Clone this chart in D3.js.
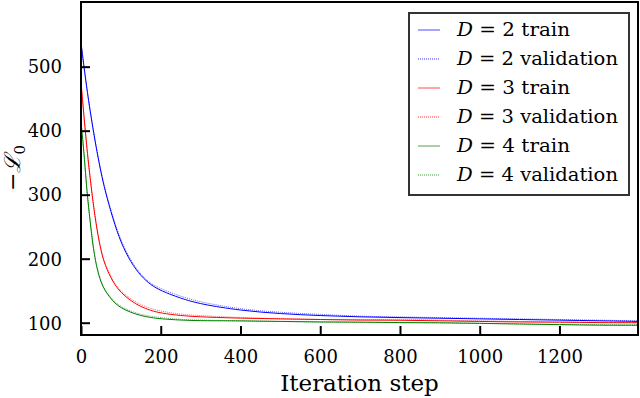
<!DOCTYPE html>
<html>
<head>
<meta charset="utf-8">
<script src="https://cdn.jsdelivr.net/npm/d3@7"></script>
<style>
  body { margin: 0; background: #fff; }
  svg { display: block; }
</style>
</head>
<body>
<div id="chart"></div>
<script>
// iteration steps shared by all series
const steps = [0, 5, 10, 15, 20, 30, 40, 50, 60, 80, 100, 125, 150, 175, 200, 250, 300,
  400, 500, 600, 700, 800, 900, 1000, 1100, 1200, 1300, 1397];

const d2Train = [538, 512, 488, 465, 443, 403, 367, 335, 307, 262, 225, 194, 173, 159, 150, 138, 129,
  119, 114, 111, 109, 108, 107, 106, 105, 104, 103, 102];
const d2Val = [537, 511, 487, 464, 442, 404, 368, 337, 309, 265, 228, 197, 175, 161, 153, 141, 132,
  121, 116, 113, 110, 109, 108, 107, 106, 105, 104, 103];
const d3Train = [476, 440, 405, 372, 342, 288, 245, 212, 190, 163, 147, 134, 125, 119, 115, 111, 109,
  107, 106, 105, 104, 104, 103, 102, 101, 101, 100, 100];
const d3Val = [475, 439, 404, 371, 341, 289, 246, 214, 192, 165, 149, 137, 128, 122, 118, 113, 111,
  108, 106, 105, 104, 106, 104, 103, 102, 101, 101, 100];
const d4Train = [414, 383, 345, 305, 275, 218, 184, 163, 150, 133, 123, 116, 111, 108, 106, 104, 103,
  103, 102, 101, 101, 100, 100, 99, 98, 97, 96, 96];
const d4Val = [413, 382, 344, 304, 274, 219, 186, 165, 151, 135, 125, 118, 113, 110, 108, 105, 104,
  103, 102, 101, 101, 100, 100, 99, 98, 97, 97, 97];

const xTicks = [0, 200, 400, 600, 800, 1000, 1200];
const yTicks = [100, 200, 300, 400, 500];

const series = [
  { D: 2, kind: 'train', values: d2Train, color: '#0000ff' },
  { D: 2, kind: 'validation', values: d2Val, color: '#0000ff' },
  { D: 3, kind: 'train', values: d3Train, color: '#ff0000' },
  { D: 3, kind: 'validation', values: d3Val, color: '#ff0000' },
  { D: 4, kind: 'train', values: d4Train, color: '#008000' },
  { D: 4, kind: 'validation', values: d4Val, color: '#008000' },
];

const serif = 'DejaVu Serif';
const width = 640;
const height = 398;
const margin = { top: 2, right: 2, bottom: 63, left: 81 };

const svg = d3.select('#chart').append('svg')
  .attr('width', width)
  .attr('height', height)
  .attr('font-family', serif);

const xScale = d3.scaleLinear().domain([0, 1397]).range([margin.left, width - margin.right]);
const yScale = d3.scaleLinear().domain([80.8, 601]).range([height - margin.bottom, margin.top]);

svg.append('clipPath').attr('id', 'clip')
  .append('rect')
  .attr('x', margin.left).attr('y', margin.top)
  .attr('width', width - margin.left - margin.right)
  .attr('height', height - margin.top - margin.bottom);

// curves
const line = d3.line()
  .x((d) => xScale(d[0]))
  .y((d) => yScale(d[1]))
  .curve(d3.curveBasis);

const lines = svg.append('g').attr('clip-path', 'url(#clip)');
series.forEach((s) => {
  lines.append('path')
    .datum(steps.map((t, i) => [t, s.values[i]]))
    .attr('d', line)
    .attr('fill', 'none')
    .attr('stroke', s.color)
    .attr('stroke-width', 1)
    .attr('stroke-opacity', s.kind === 'train' ? 1 : 0.6)
    .attr('stroke-dasharray', s.kind === 'train' ? null : '1,1');
});

// axes with inward ticks
const xAxis = svg.append('g')
  .attr('transform', `translate(0, ${height - margin.bottom})`)
  .call(d3.axisBottom(xScale).tickValues(xTicks).tickFormat(d3.format('d')).tickSize(-9).tickPadding(12));
const yAxis = svg.append('g')
  .attr('transform', `translate(${margin.left}, 0)`)
  .call(d3.axisLeft(yScale).tickValues(yTicks).tickFormat(d3.format('d')).tickSize(-9).tickPadding(19));

[xAxis, yAxis].forEach((g) => {
  g.attr('font-family', serif).attr('font-size', 18);
  g.select('.domain').remove();
  g.selectAll('.tick line').attr('stroke', '#000').attr('stroke-width', 2);
  g.selectAll('.tick text').attr('fill', '#000');
});
xAxis.selectAll('.tick text').attr('dy', '0.9em');
yAxis.selectAll('.tick text').attr('dy', '0.35em');

// frame
svg.append('rect')
  .attr('x', margin.left).attr('y', margin.top)
  .attr('width', width - margin.left - margin.right)
  .attr('height', height - margin.top - margin.bottom)
  .attr('fill', 'none')
  .attr('stroke', '#000')
  .attr('stroke-width', 2);

// axis labels
svg.append('text')
  .attr('x', (margin.left + width - margin.right) / 2)
  .attr('y', 391)
  .attr('text-anchor', 'middle')
  .attr('font-family', serif)
  .attr('font-size', 23)
  .text('Iteration step');

const yLabel = svg.append('text')
  .attr('transform', 'translate(20, 168) rotate(-90)')
  .attr('text-anchor', 'middle')
  .attr('font-family', serif)
  .attr('font-size', 22);
yLabel.append('tspan').text('\u2212');
yLabel.append('tspan').attr('font-style', 'italic').text('\u2112');
yLabel.append('tspan').attr('dy', 5).attr('font-size', 15).text('0');

// legend
const legend = svg.append('g');
legend.append('rect')
  .attr('x', 409).attr('y', 13)
  .attr('width', 220).attr('height', 182)
  .attr('fill', '#fff')
  .attr('stroke', '#333')
  .attr('stroke-width', 2);

const rows = legend.selectAll('g.row')
  .data(series)
  .join('g')
  .attr('class', 'row')
  .attr('transform', (d, i) => `translate(0, ${30 + i * 29})`);

rows.append('line')
  .attr('x1', 418).attr('x2', 440)
  .attr('stroke', (d) => d.color)
  .attr('stroke-width', 1)
  .attr('stroke-opacity', (d) => d.kind === 'train' ? 0.7 : 0.8)
  .attr('stroke-dasharray', (d) => d.kind === 'train' ? null : '1,1');

const labels = rows.append('text')
  .attr('x', 457)
  .attr('y', 6)
  .attr('font-family', serif)
  .attr('font-size', 18)
  .attr('textLength', (d) => d.kind === 'train' ? 113 : 161)
  .attr('lengthAdjust', 'spacingAndGlyphs');
labels.append('tspan').attr('font-style', 'italic').text('D');
labels.append('tspan').text((d) => ` = ${d.D} ${d.kind}`);
</script>
</body>
</html>
